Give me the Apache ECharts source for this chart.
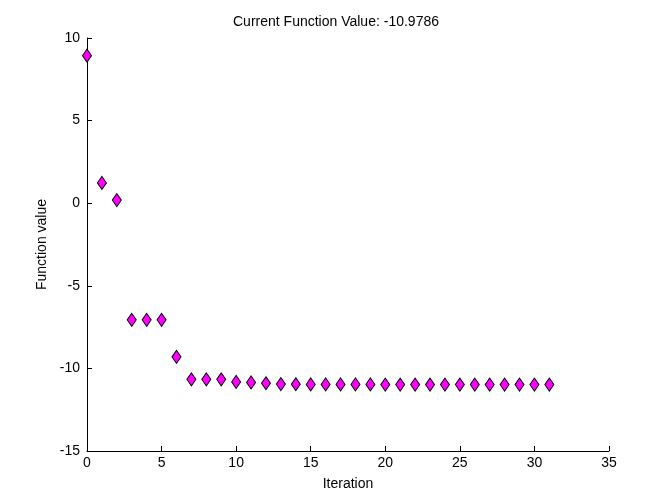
<!DOCTYPE html>
<html>
<head>
<meta charset="utf-8">
<script src="https://cdn.jsdelivr.net/npm/echarts@6/dist/echarts.min.js"></script>
<style>
  html, body { margin: 0; padding: 0; background: #fff; }
  #chart { width: 672px; height: 504px; }
</style>
</head>
<body>
<div id="chart"></div>
<script>
// iterations 0..31 and the function value at each
var iterations = [0, 1, 2, 3, 4, 5, 6, 7, 8, 9, 10, 11, 12, 13, 14, 15,
                  16, 17, 18, 19, 20, 21, 22, 23, 24, 25, 26, 27, 28, 29, 30, 31];
var fvals = [8.93, 1.23, 0.19, -7.06, -7.06, -7.06, -9.30, -10.66, -10.66, -10.66,
             -10.82, -10.85, -10.90, -10.95, -10.96, -10.97, -10.97, -10.97, -10.97, -10.97,
             -10.98, -10.98, -10.98, -10.98, -10.98, -10.98, -10.98, -10.98, -10.98, -10.98,
             -10.98, -10.9786];
var titleText = 'Current Function Value: -10.9786';

var points = [];
for (var i = 0; i < iterations.length; i++) {
    points.push([iterations[i], fvals[i]]);
}

var font = 'Liberation Sans, Arial, sans-serif';
var chart = echarts.init(document.getElementById('chart'));
chart.setOption({
    animation: false,
    backgroundColor: '#fff',
    title: {
        text: titleText,
        left: 'center',
        top: 10,
        textStyle: { fontFamily: font, fontSize: 14, fontWeight: 'normal', color: '#000' }
    },
    grid: { left: 87, right: 63, top: 38, bottom: 53 },
    xAxis: {
        type: 'value',
        min: 0, max: 35, interval: 5,
        name: 'Iteration',
        nameLocation: 'middle',
        nameGap: 26,
        nameTextStyle: { fontFamily: font, fontSize: 14, color: '#000' },
        axisLine: { onZero: false, lineStyle: { color: '#000', width: 1 } },
        axisTick: { inside: true, length: 5, lineStyle: { color: '#000' } },
        axisLabel: { fontFamily: font, fontSize: 14, color: '#000', margin: 5 },
        splitLine: { show: false }
    },
    yAxis: {
        type: 'value',
        min: -15, max: 10, interval: 5,
        name: 'Function value',
        nameLocation: 'middle',
        nameGap: 36,
        nameTextStyle: { fontFamily: font, fontSize: 14, color: '#000' },
        axisLine: { show: true, onZero: false, lineStyle: { color: '#000', width: 1 } },
        axisTick: { show: true, inside: true, length: 5, lineStyle: { color: '#000' } },
        axisLabel: { fontFamily: font, fontSize: 14, color: '#000', margin: 7 },
        splitLine: { show: false }
    },
    series: [{
        type: 'scatter',
        data: points,
        symbol: 'diamond',
        symbolSize: [9, 13],
        itemStyle: { color: '#ff00ff', opacity: 1, borderColor: '#000', borderWidth: 1 }
    }]
});
</script>
</body>
</html>
